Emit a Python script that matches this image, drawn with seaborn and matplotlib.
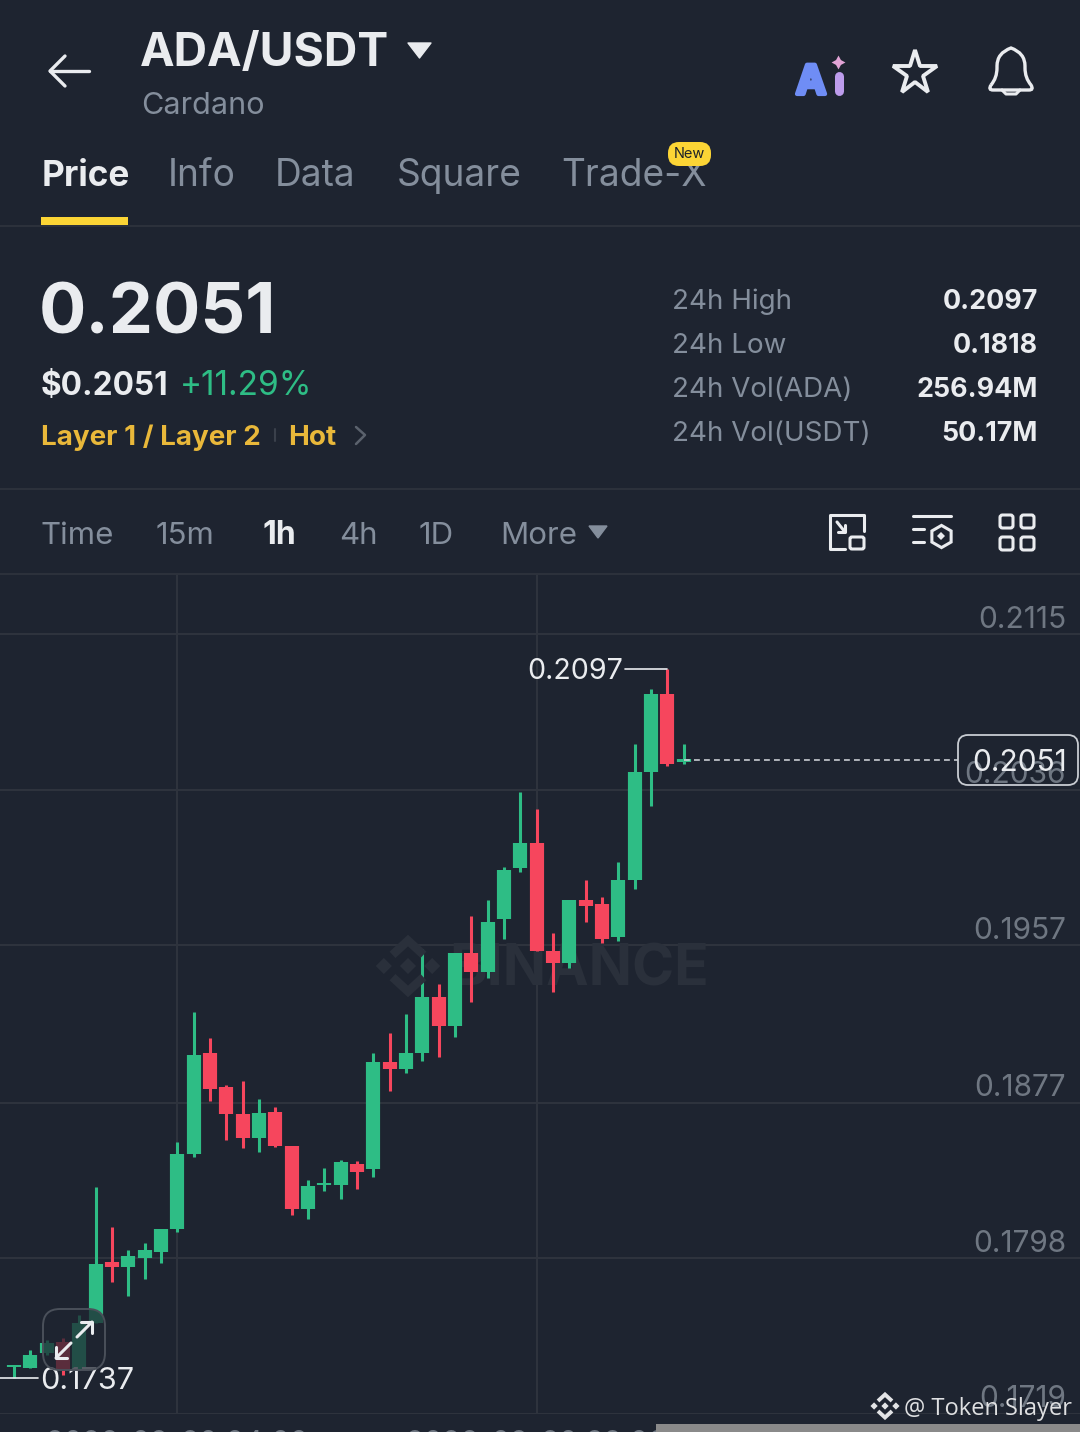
import numpy as np
import pandas as pd
import matplotlib
matplotlib.use('Agg')
import matplotlib.pyplot as plt
import seaborn as sns
from matplotlib.patches import FancyBboxPatch, Polygon, PathPatch
from matplotlib.path import Path
import matplotlib.patheffects as pe

# ---------- data ----------
opens = [.17479, .17429, .17424, .17500, .17555, .17413, .17652, .17962, .17936, .17982, .18012,
         .18129, .18510, .19023, .18850, .18713, .18591, .18723, .18551, .18231, .18353, .18353,
         .18459, .18434, .18977, .18942, .19023, .19307, .19160, .19530, .19434, .19703, .19962,
         .20089, .19541, .19480, .19800, .19779, .19612, .19901, .20449, .20845, .20500]
closes = [.17424, .17439, .17490, .17550, .17413, .17652, .17951, .17936, .17992, .18023, .18129,
          .18510, .19013, .18840, .18713, .18591, .18718, .18551, .18231, .18347, .18363, .18469,
          .18419, .18977, .18942, .19023, .19307, .19160, .19530, .19434, .19688, .19952, .20089,
          .19541, .19480, .19800, .19769, .19602, .19901, .20449, .20845, .20490, .20515]
highs = [.17490, .17439, .17515, .17566, .17576, .17693, .18342, .18139, .18023, .18058, .18129,
         .18571, .19231, .19099, .18860, .18881, .18789, .18749, .18551, .18378, .18439, .18479,
         .18474, .19023, .19124, .19221, .19551, .19373, .19530, .19718, .19800, .19967, .20348,
         .20262, .19632, .19800, .19901, .19815, .19992, .20592, .20871, .20972, .20592]
lows = [.17413, .17373, .17424, .17490, .17388, .17413, .17652, .17860, .17789, .17875, .17957,
        .18114, .18495, .18779, .18581, .18540, .18520, .18546, .18200, .18180, .18322, .18281,
        .18332, .18393, .18830, .18921, .18982, .19002, .19104, .19282, .19404, .19602, .19942,
        .19541, .19332, .19454, .19688, .19581, .19591, .19855, .20277, .20480, .20490]

price_ticks = [0.2115, 0.2036, 0.1957, 0.1877, 0.1798, 0.1719]
price_labels = ['0.2115', '0.2036', '0.1957', '0.1877', '0.1798', '0.1719']
date_ticks = [11, 33]
date_labels = ['2026-02-20 04:00', '2026-02-20 22:00']
last_price = 0.2051

tabs = ['Price', 'Info', 'Data', 'Square', 'Trade-X']
tab_x = [42, 168, 275, 397, 561]
ranges = ['Time', '15m', '1h', '4h', '1D', 'More']
range_x = [41, 156, 262, 339, 419, 500]
stat_names = ['24h High', '24h Low', '24h Vol(ADA)', '24h Vol(USDT)']
stat_values = ['0.2097', '0.1818', '256.94M', '50.17M']

BG = '#1e2430'
GRID = '#2f343e'
GREEN = '#2ebd85'
RED = '#f6465d'
WHITE = '#eaecef'
GRAY = '#848e9c'
YELLOW = '#e9b83a'

sns.set_theme(style='darkgrid', rc={'axes.facecolor': BG, 'figure.facecolor': BG,
                                    'grid.color': GRID, 'grid.linewidth': 1.4})
plt.rcParams['font.family'] = ['Inter', 'DejaVu Sans']

fig = plt.figure(figsize=(10.8, 14.32), dpi=100)

# chart axes covers the pixel rows 575..1414 and the whole width
ax = fig.add_axes([0, (1432 - 1414) / 1432, 1, (1414 - 575) / 1432])
ui = fig.add_axes([0, 0, 1, 1], zorder=5)
ui.set_xlim(0, 1080)
ui.set_ylim(1432, 0)
ui.axis('off')
ui.patch.set_alpha(0)

# ---------- candles ----------
candles = pd.DataFrame({'candle': range(len(opens)), 'open': opens, 'close': closes,
                        'high': highs, 'low': lows})
candles['side'] = np.where(candles['close'] >= candles['open'], 'up', 'down')
wicks = candles.melt(id_vars=['candle', 'side'], value_vars=['high', 'low'], value_name='price')
bodies = candles.melt(id_vars=['candle', 'side'], value_vars=['open', 'close'], value_name='price')
colors = {'up': GREEN, 'down': RED}

# watermark goes under the candles
ax.text(0.416, 0.529, 'BINANCE', transform=ax.transAxes, fontsize=41, fontweight='bold',
        color='#2a303b', va='center', ha='left', zorder=1)

sns.lineplot(data=wicks, x='candle', y='price', units='candle', hue='side', palette=colors,
             estimator=None, sort=False, legend=False, linewidth=2.2, solid_capstyle='butt',
             ax=ax, zorder=3)
sns.lineplot(data=bodies, x='candle', y='price', units='candle', hue='side', palette=colors,
             estimator=None, sort=False, legend=False, linewidth=10.2, solid_capstyle='butt',
             ax=ax, zorder=4)

step = 16.33  # px per candle
x_last = 683.5
ax.set_xlim(42 - x_last / step, 42 + (1080 - x_last) / step)
ax.set_ylim(0.1719, 0.2145)
ax.set_xticks(date_ticks)
ax.set_yticks(price_ticks)
ax.set_xticklabels([])
ax.set_yticklabels([])
ax.tick_params(length=0)
ax.set_xlabel('')
ax.set_ylabel('')
ax.set_axisbelow(True)
for s in ax.spines.values():
    s.set_visible(False)

# price labels sit on top of their grid lines
for v, lab in zip(price_ticks, price_labels):
    ax.annotate(lab, xy=(1066 / 1080, v), xycoords=ax.get_yaxis_transform(), xytext=(0, 10.5),
                textcoords='offset points', ha='right', va='center', fontsize=21.5, color='#6f7782',
                annotation_clip=False, zorder=2)

# high / low markers and last price line
hi = int(np.argmax(highs))
lo = int(np.argmin(lows))
ax.plot([hi - 2.6, hi], [highs[hi]] * 2, color=WHITE, lw=1.2, zorder=5)
ax.annotate('0.2097', xy=(hi - 2.6, highs[hi]), xytext=(-1, -2), textcoords='offset points',
            ha='right', va='center', fontsize=20.6, color=WHITE, zorder=6)
ax.plot([-1, lo + 1.5], [lows[lo]] * 2, color=WHITE, lw=1.2, zorder=5)
ax.annotate('0.1737', xy=(lo + 1.5, lows[lo]), xytext=(1, -2.5), textcoords='offset points',
            ha='left', va='center', fontsize=22, color=WHITE, zorder=6)
ax.plot([len(opens) - 1, 42 + (958 - x_last) / step], [last_price] * 2, color='#c8ccd2', lw=1.2,
        dashes=(3.5, 2.5), zorder=5)


# ---------- helpers for the app chrome, pixel coords ----------
def txt(x, y, s, size, color=WHITE, weight='normal', ha='left', **kw):
    return ui.text(x, y, s, fontsize=size, color=color, fontweight=weight, ha=ha, va='baseline', **kw)


def line(xs, ys, color=WHITE, lw=2.2):
    ui.plot(xs, ys, color=color, lw=lw, solid_capstyle='round', solid_joinstyle='round')


def box(x0, y0, x1, y1, r, **kw):
    ui.add_patch(FancyBboxPatch((x0 + r, y0 + r), x1 - x0 - 2 * r, y1 - y0 - 2 * r,
                                boxstyle='round,pad=%f,rounding_size=%f' % (r, r), **kw))


def logo(cx, cy, r, color, zorder=2):
    # binance mark: centre diamond, side dots, top and bottom chevrons
    d = r * 0.26
    for ox, oy in [(0, 0), (-r * 0.78, 0), (r * 0.78, 0)]:
        ui.add_patch(Polygon([(cx + ox, cy + oy - d), (cx + ox + d, cy + oy), (cx + ox, cy + oy + d),
                              (cx + ox - d, cy + oy)], fc=color, ec='none', zorder=zorder))
    for sgn in (-1, 1):
        ui.plot([cx - r * 0.5, cx, cx + r * 0.5],
                [cy + sgn * r * 0.36, cy + sgn * r * 0.82, cy + sgn * r * 0.36],
                color=color, lw=r * 0.2, solid_joinstyle='miter', solid_capstyle='butt', zorder=zorder)


# header
line([50, 89], [71, 71], lw=2.4)
line([65, 50, 65], [56, 71, 86], lw=2.4)
txt(140, 66, 'ADA/USDT', 33.4, weight='bold')
ui.add_patch(Polygon([(408, 43), (431, 43), (419.5, 58)], fc=WHITE, ec=WHITE, lw=1, joinstyle='round'))
txt(141, 114, 'Cardano', 22, GRAY)

# ai / star / bell
a_mark = txt(796, 94, 'A', 29, '#6f8df5', 'bold')
a_mark.set_path_effects([pe.withStroke(linewidth=3, foreground='#6f8df5')])
ui.plot([838.5, 838.5], [76, 91], color='#bd9cec', lw=6.5, solid_capstyle='round')
ui.plot([838], [62], marker=(4, 1, 0), ms=10, color='#e2a4d6', mew=0)
ui.plot([915], [72.5], marker='*', ms=33, mfc='none', mec=WHITE, mew=2.8)
bell = Path([(991, 85), (997, 78), (997, 68), (997, 66), (997, 53), (1011, 48), (1025, 53), (1025, 66),
             (1025, 68), (1025, 78), (1031, 85), (1034, 90), (1029, 90), (993, 90), (988, 90), (991, 85)],
            [Path.MOVETO, Path.CURVE3, Path.CURVE3, Path.LINETO, Path.CURVE3, Path.CURVE3, Path.CURVE3,
             Path.CURVE3, Path.LINETO, Path.CURVE3, Path.CURVE3, Path.CURVE3, Path.CURVE3, Path.LINETO,
             Path.CURVE3, Path.CURVE3])
ui.add_patch(PathPatch(bell, fc='none', ec=WHITE, lw=2.4))
line([1002, 1006, 1016, 1020], [90, 94, 94, 90], lw=2.2)

# tabs
for i, (t, x) in enumerate(zip(tabs, tab_x)):
    txt(x, 186, t, 25.3 if i == 0 else 26.7, WHITE if i == 0 else GRAY, 'bold' if i == 0 else 'normal')
ui.add_patch(plt.Rectangle((41, 217), 87, 8, fc='#fcd535', ec='none'))
box(668, 142, 711, 166, 11, fc='#fcd535', ec='none', zorder=3)
ui.text(689.5, 154.5, 'New', fontsize=10.5, color='#1e2329', ha='center', va='center', zorder=4)
for y in (226, 489, 574):
    ui.plot([0, 1080], [y, y], color=GRID, lw=1.2)

# price block
txt(39, 334, '0.2051', 50.5, weight='bold')
txt(41, 395, '$0.2051', 22.7, weight='bold')
txt(180, 395, '+11.29%', 24, GREEN)
txt(41, 445, 'Layer 1 / Layer 2', 20, YELLOW, 'bold')
ui.plot([275, 275], [429, 441], color='#3a404b', lw=1.5)
txt(288, 445, 'Hot', 20, YELLOW, 'bold')
line([356, 365, 356], [427, 435, 444], color='#5b626d', lw=1.8)
for i, (n, v) in enumerate(zip(stat_names, stat_values)):
    txt(672, 309 + 44 * i, n, 20, GRAY)
    txt(1038, 309 + 44 * i, v, 19.3, WHITE, 'bold', ha='right')

# range selector
for r, x in zip(ranges, range_x):
    if r == '1h':
        txt(x, 544, r, 23, WHITE, 'bold')
    else:
        txt(x, 544, r, 22.5, GRAY)
ui.add_patch(Polygon([(589, 526), (607, 526), (598, 538)], fc=GRAY, ec=GRAY, lw=1))

# toolbar icons
line([845, 830, 830, 864, 864], [549, 549, 515, 515, 531], lw=2.2)
box(850, 537, 864, 549, 2, fc='none', ec=WHITE, lw=2.2)
line([837, 845], [522, 532], lw=2.2)
line([838, 845, 845], [532, 532, 525], lw=2.2)
line([913, 951], [516, 516], lw=2.2)
line([913, 924], [529, 529], lw=2.2)
line([913, 924], [542, 542], lw=2.2)
ui.plot([940.5], [536], marker='h', ms=16, mfc='none', mec=WHITE, mew=2.2)
ui.plot([940.5], [536], marker='D', ms=4, color=WHITE, mew=0)
for x0, x1 in [(1000, 1013), (1021, 1034)]:
    for y0, y1 in [(515, 528), (537, 550)]:
        box(x0, y0, x1, y1, 2.5, fc='none', ec=WHITE, lw=2.2)

# watermark logo, last price box, expand button
logo(408, 966, 31, '#2a303b', zorder=0)
box(958, 735, 1078, 785, 10, fc='none', ec='#c8ccd2', lw=1.3)
txt(972, 771, '0.2051', 21.5, WHITE)
box(43, 1309, 105, 1370, 17, fc='#1e2430', alpha=0.72, ec='none')
box(43, 1309, 105, 1370, 17, fc='none', ec='#4a505a', lw=1.4)
line([77, 92], [1337, 1322], lw=2.2)
line([81, 92, 92], [1322, 1322, 1333], lw=2.2)
line([71, 56], [1343, 1358], lw=2.2)
line([56, 56, 67], [1347, 1358, 1358], lw=2.2)

# date labels run off the bottom of the screenshot
for t, lab in zip(date_ticks, date_labels):
    ax.annotate(lab, xy=(t, 0), xycoords=ax.get_xaxis_transform(), xytext=(0, -21.5),
                textcoords='offset points', ha='center', va='center', fontsize=21, color='#6f7782',
                annotation_clip=False)

# footer: grey strip and author tag
ui.add_patch(plt.Rectangle((656, 1424), 424, 8, fc='#8a8a8a', ec='none', zorder=6))
logo(885, 1406, 14, '#e3e4e6', zorder=7)
ui.text(904, 1415, '@ Token Slayer', fontsize=17, color='#dfe0e2', family='Open Sans', ha='left',
        va='baseline', zorder=7)

fig.savefig('out.png', dpi=100, facecolor=BG)
